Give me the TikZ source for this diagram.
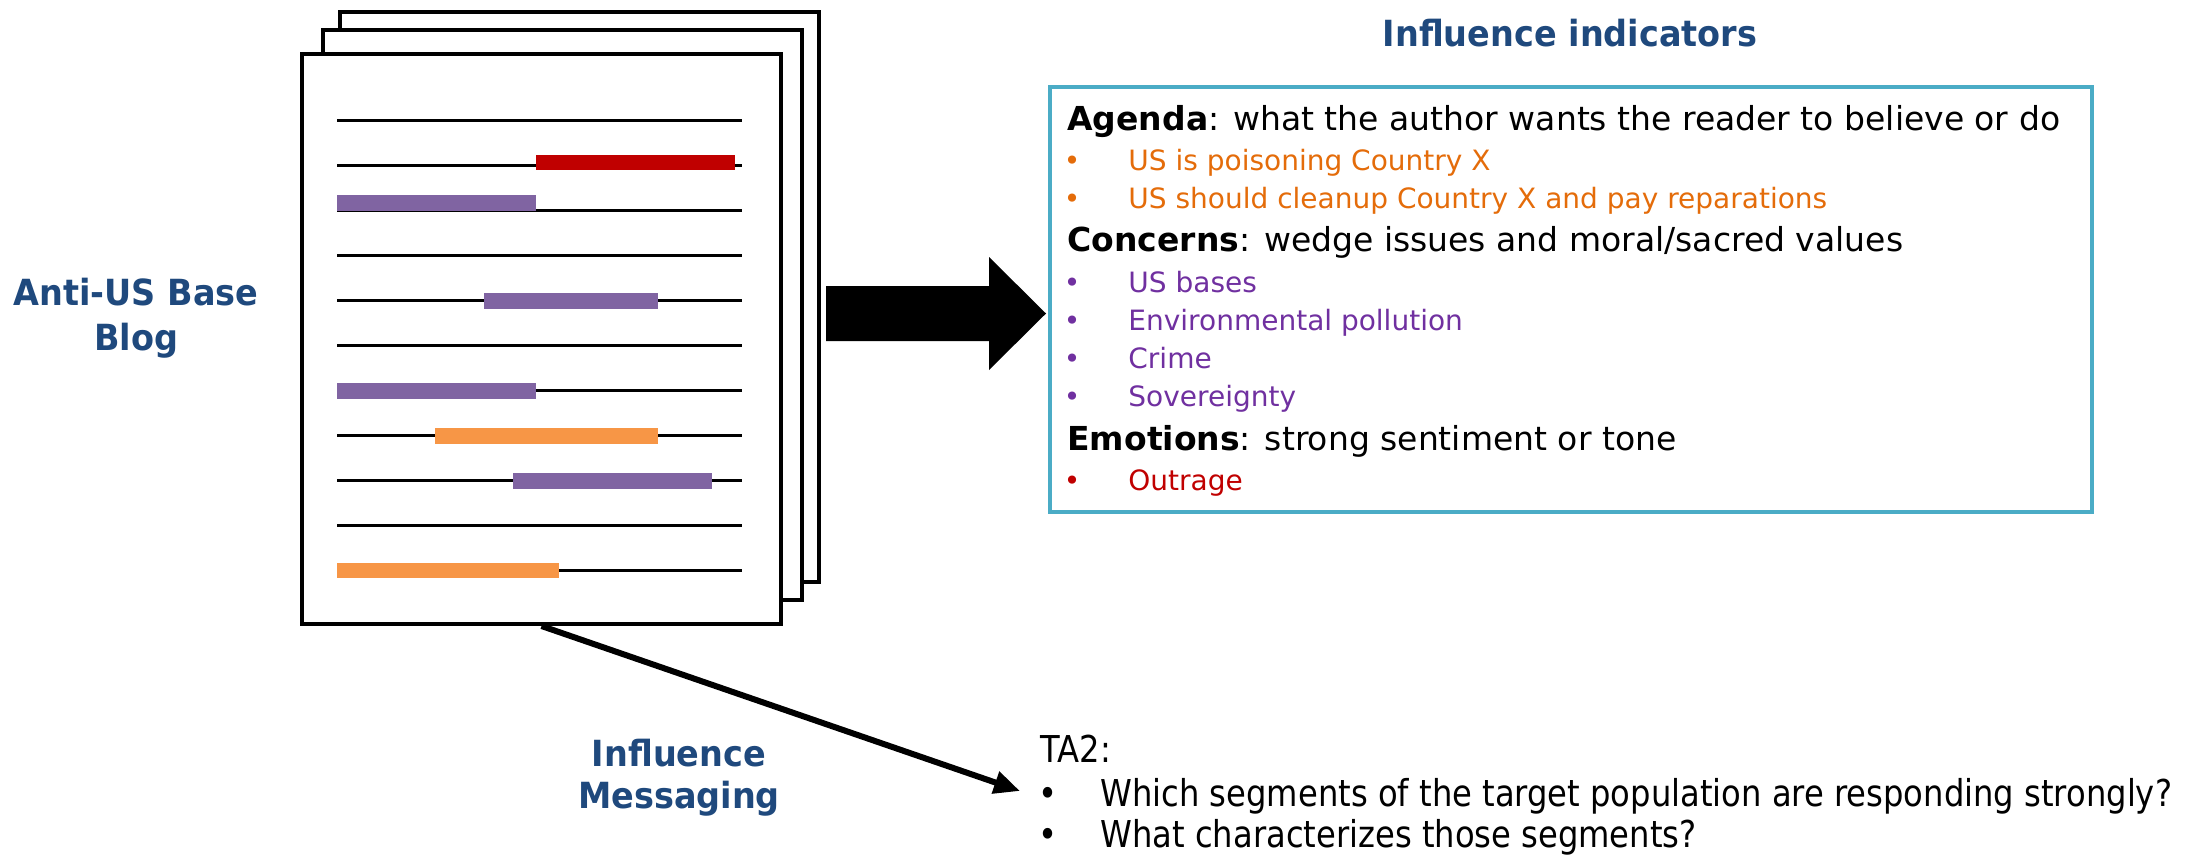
\documentclass[tikz,border=0pt]{standalone}
\usepackage{fontspec}
\setmainfont{DejaVu Sans}
\newfontfamily\labelfont[FakeStretch=0.93]{DejaVu Sans}
\newfontfamily\notefont[FakeStretch=0.87]{DejaVu Sans}
\usetikzlibrary{arrows.meta}

\definecolor{navy}{RGB}{31,73,125}
\definecolor{agendaorange}{RGB}{228,108,10}
\definecolor{concernpurple}{RGB}{112,48,160}
\definecolor{emotionred}{RGB}{192,0,0}
\definecolor{barpurple}{RGB}{128,100,162}
\definecolor{barorange}{RGB}{247,150,70}
\definecolor{framecyan}{RGB}{75,172,198}

\tikzset{
  page/.style={draw=black, line width=2pt, fill=white, minimum width=239.5pt,
    minimum height=285pt, inner sep=0pt, anchor=north west},
  textline/.style={draw=black, line width=1.65pt},
  head/.style={anchor=base west, inner sep=0pt, font=\fontsize{16.5}{19}\selectfont},
  item/.style={anchor=base west, inner sep=0pt, font=\fontsize{14}{17}\selectfont},
  bulletmark/.style={anchor=base, inner sep=0pt, font=\fontsize{14}{17}\selectfont},
  bluelabel/.style={anchor=base, inner sep=0pt, text=navy,
    font=\labelfont\bfseries\fontsize{18}{22}\selectfont},
  note/.style={anchor=base west, inner sep=0pt, font=\notefont\fontsize{18.5}{22}\selectfont},
  notemark/.style={anchor=base, inner sep=0pt, font=\notefont\fontsize{18.5}{22}\selectfont},
  msgarrow/.style={draw=black, line width=3pt, -{Triangle[length=13pt,width=11pt]}},
}

\begin{document}
\begin{tikzpicture}[x=0.5pt,y=-0.5pt]
\useasboundingbox (0,0) rectangle (2210,857);

% stack of blog pages
\node[page] (back) at (338,10) {};
\node[page] (middle) at (321,28) {};
\node[page] (front) at (300,52) {};

% ruled text lines on the front page
\foreach \k in {0,...,10}
  \draw[textline] (337,{120.8+45*\k}) -- (742,{120.8+45*\k});

% highlighted passages
\fill[emotionred]  (536,154.6) rectangle (734.6,170.1);
\fill[barpurple]   (337,195.2) rectangle (536,210.7);
\fill[barpurple]   (484,293.0) rectangle (657.5,308.5);
\fill[barpurple]   (337,383.2) rectangle (536,398.7);
\fill[barorange]   (435,428.1) rectangle (657.5,443.6);
\fill[barpurple]   (512.5,473.0) rectangle (711.8,488.5);
\fill[barorange]   (337,562.8) rectangle (559,578.3);

% source label
\node[bluelabel] (blogA) at (136,305) {Anti-US Base};
\node[bluelabel] (blogB) at (136,350) {Blog};

% block arrow towards the indicators
\fill[black] (826,286) -- (989,286) -- (989,257) -- (1046,313.5)
  -- (989,370) -- (989,341) -- (826,341) -- cycle;

% influence indicators panel
\node[bluelabel] (title) at (1570,46.7) {Influence indicators};
\node[draw=framecyan, line width=2pt, minimum width=521pt, minimum height=212.5pt,
  anchor=north west, inner sep=0pt] (indicators) at (1048,85) {};

\node[head] (agenda) at (1067,130.5) {\textbf{Agenda}: what the author wants the reader to believe or do};
\node[bulletmark, text=agendaorange] (ab1) at (1072,170) {•};
\node[item, text=agendaorange] (a1) at (1128,170) {US is poisoning Country X};
\node[bulletmark, text=agendaorange] (ab2) at (1072,208.3) {•};
\node[item, text=agendaorange] (a2) at (1128,208.3) {US should cleanup Country X and pay reparations};

\node[head] (concerns) at (1067,251.7) {\textbf{Concerns}: wedge issues and moral/sacred values};
\node[bulletmark, text=concernpurple] (cb1) at (1072,292) {•};
\node[item, text=concernpurple] (c1) at (1128,292) {US bases};
\node[bulletmark, text=concernpurple] (cb2) at (1072,330) {•};
\node[item, text=concernpurple] (c2) at (1128,330) {Environmental pollution};
\node[bulletmark, text=concernpurple] (cb3) at (1072,368.3) {•};
\node[item, text=concernpurple] (c3) at (1128,368.3) {Crime};
\node[bulletmark, text=concernpurple] (cb4) at (1072,406.7) {•};
\node[item, text=concernpurple] (c4) at (1128,406.7) {Sovereignty};

\node[head] (emotions) at (1067,450) {\textbf{Emotions}: strong sentiment or tone};
\node[bulletmark, text=emotionred] (eb1) at (1072,490) {•};
\node[item, text=emotionred] (e1) at (1128,490) {Outrage};

% messaging branch
\node[bluelabel] (msgA) at (679,766) {Influence};
\node[bluelabel] (msgB) at (679,808) {Messaging};

\node[note] (ta2) at (1040,762) {TA2:};
\node[notemark] (qb1) at (1048,806) {•};
\node[note] (q1) at (1100,806) {Which segments of the target population are responding strongly?};
\node[notemark] (qb2) at (1048,847) {•};
\node[note] (q2) at (1100,847) {What characterizes those segments?};

\coordinate (tip) at (1020,791);
\draw[msgarrow] (front.south) -- (tip);
\end{tikzpicture}
\end{document}
